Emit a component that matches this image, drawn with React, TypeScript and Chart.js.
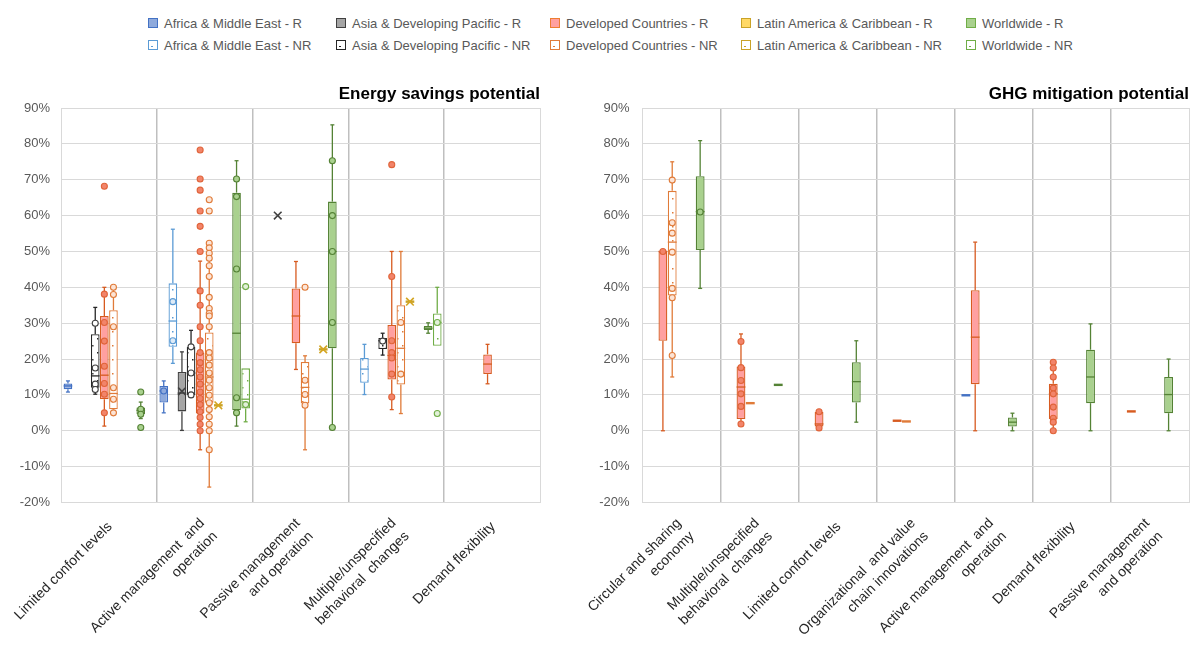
import React, { useEffect, useRef } from "react";
import { Chart, registerables } from "chart.js";

Chart.register(...registerables);

const FONT = '"Liberation Sans", Arial, Helvetica, sans-serif';

// ================= DATA =================
// every box: [min, q1, median, q3, max] in %, null = no data

// ----- Energy savings potential (left panel) -----
const ES_CATEGORIES: string[][] = [
  ["Limited confort levels"],
  ["Active management  and", "operation"],
  ["Passive management", "and operation"],
  ["Multiple/unspecified", "behavioral  changes"],
  ["Demand flexibility"],
];

const ES_AF_R = [[10.8, 11.6, 12.5, 13.2, 13.9], [5, 7.9, 11.1, 12.5, 13.9], null, null, null];
const ES_AF_R_PTS = [[], [11.1], [], [], []];
const ES_AF_NR = [null, [18.8, 23.4, 30.6, 41.1, 56.2], null, [10.1, 13.4, 17.2, 20.3, 24.1], null];
const ES_AF_NR_PTS = [[], [36, 25.1], [], [], []];

const ES_AS_R = [null, [0.1, 5.4, 10.5, 16.4, 22], null, null, null];
const ES_AS_R_MEAN = [null, 11, 60, null, null];
const ES_AS_NR = [[10.2, 12, 15.3, 26.9, 34.4], [9.9, 9.9, 16.1, 23.4, 28], null, [21.1, 22.8, 25.1, 25.9, 27.2], null];
const ES_AS_NR_PTS = [[30, 17.5, 13, 11.5], [23.4, 16.1, 10], [], [25], []];

const ES_DC_R = [
  [1.3, 8.8, 15.5, 32, 40],
  [-5.3, 4.8, 13, 21.8, 47.3],
  [17.1, 24.4, 32, 39.7, 47.2],
  [5.9, 14.3, 21, 29.5, 50],
  [13.1, 15.8, 18.6, 21.3, 24.1],
];
const ES_DC_R_PTS = [
  [68.2, 38.1, 30.2, 25, 18, 13.2, 10.2, 5],
  [78.3, 70.2, 67.1, 61.3, 57, 50, 39, 35, 29, 25.1, 21.8, 19, 17, 15, 13, 10.8, 9, 7.3, 5.3, 3.7, 1.8, 0],
  [],
  [74.2, 43, 25.1, 21.8, 20.3, 15.8, 9.4],
  [],
];
const ES_DC_NR = [
  [5, 6, 10.4, 33.6, 40],
  [-15.7, 7.8, 15, 27.4, 52.3],
  [-5.3, 7.6, 12.1, 19.2, 20.9],
  [4.8, 12.9, 23, 35, 50],
  null,
];
const ES_DC_NR_PTS = [
  [40, 38, 29, 12, 8.8, 5],
  [64.4, 61.3, 52.3, 51, 49.5, 48.1, 46, 43, 37.2, 34.1, 32.7, 32, 29, 21.8, 20.3, 18.3, 16.1, 14.1, 12, 9.9, 7.8, 5.9, 3.9, 1.8, 0, -5.3],
  [40, 14.1, 10.1, 7.1],
  [30.2, 15.8],
  [],
];

const ES_LA_R = [null, [7.1, 7.1, 7.1, 7.1, 7.1], null, [36, 36, 36, 36, 36], null];
const ES_LA_R_MEAN = [null, 7.1, null, 36, null];
const ES_LA_NR = [null, null, [22.7, 22.7, 22.7, 22.7, 22.7], null, null];
const ES_LA_NR_MEAN = [null, null, 22.7, null, null];

const ES_WW_R = [
  [3.4, 4.7, 5.7, 6.5, 8],
  [1.3, 5.7, 27.2, 66.4, 75.3],
  [0.9, 23, 50, 63.9, 85.3],
  [27.2, 28.1, 28.6, 29.2, 30.1],
  null,
];
const ES_WW_R_PTS = [[10.8, 6, 4.6, 0.9], [70.2, 65.3, 45.1, 9.2, 5], [75.3, 60, 50, 30.2, 0.9], [], []];
const ES_WW_NR = [null, [2.5, 6.2, 8.8, 17.4, 17.4], null, [23.7, 23.7, 30.2, 32.7, 40], null];
const ES_WW_NR_PTS = [[], [40.2, 7.3], [], [30.2, 4.8], []];

// ----- GHG mitigation potential (right panel) -----
const GHG_CATEGORIES: string[][] = [
  ["Circular and sharing", "economy"],
  ["Multiple/unspecified", "behavioral  changes"],
  ["Limited confort levels"],
  ["Organizational  and value", "chain innovations"],
  ["Active management  and", "operation"],
  ["Demand flexibility"],
  ["Passive management", "and operation"],
];

const GHG_AF_R = [null, null, null, null, [9.9, 9.9, 9.9, 9.9, 9.9], null, null];
const GHG_DC_R = [
  [0, 25.1, 50, 50, 50],
  [1.9, 3.3, 12.2, 17.9, 27],
  [0.8, 1.2, 1.9, 5.2, 5.5],
  [2.8, 2.8, 2.8, 2.8, 2.8],
  [0, 13, 26.1, 39.2, 52.6],
  [0, 3.3, 10.3, 13.1, 19.1],
  [5.4, 5.4, 5.4, 5.4, 5.4],
];
const GHG_DC_R_PTS = [[50], [24.9, 17.6, 14, 10.3, 6.8, 1.9], [5.3, 0.8], [], [], [19.1, 17.5, 15, 11.9, 10.3, 6.6, 3.5, 2.4, 0], []];
const GHG_DC_NR = [[15, 37.7, 52.6, 66.9, 75], [7.7, 7.7, 7.7, 7.7, 7.7], null, [2.6, 2.6, 2.6, 2.6, 2.6], null, null, null];
const GHG_DC_NR_PTS = [[69.9, 58, 55.1, 49.8, 39.7, 37.1, 21], [], [], [], [], [], []];
const GHG_LA_R = [null, null, null, null, null, null, null];
const GHG_LA_NR = [null, null, null, null, null, null, null];
const GHG_WW_R = [
  [39.7, 50.4, 61.1, 71, 80.9],
  [12.8, 12.8, 12.8, 12.8, 12.8],
  [2.4, 7.9, 13.7, 19.1, 25.1],
  null,
  [0, 1.2, 2.4, 3.7, 4.9],
  [0, 7.7, 15, 22.6, 29.8],
  [0, 4.9, 10.1, 15, 20],
];
const GHG_WW_R_PTS = [[61], [], [], [], [], [], []];
const GHG_WW_NR = [null, null, null, null, null, null, null];

const LEGEND_R = [
  "Africa & Middle East - R",
  "Asia & Developing Pacific - R",
  "Developed Countries - R",
  "Latin America & Caribbean - R",
  "Worldwide - R",
];
const LEGEND_NR = [
  "Africa & Middle East - NR",
  "Asia & Developing Pacific - NR",
  "Developed Countries - NR",
  "Latin America & Caribbean - NR",
  "Worldwide - NR",
];

// ================= STYLES =================
const AF_R = { border: "#4472C4", fill: "#8FAADC", ptFill: "#8FAADC", ptStroke: "#4472C4", mean: "#4472C4", nr: false };
const AF_NR = { border: "#5B9BD5", fill: "#fff", ptFill: "#DEEBF7", ptStroke: "#5B9BD5", mean: "#5B9BD5", nr: true };
const AS_R = { border: "#404040", fill: "#A5A5A5", ptFill: "#D9D9D9", ptStroke: "#404040", mean: "#404040", nr: false };
const AS_NR = { border: "#262626", fill: "#fff", ptFill: "#ffffff", ptStroke: "#404040", mean: "#262626", nr: true };
const DC_R = { border: "#D75B20", fill: "#FFA0A0", ptFill: "#F2846A", ptStroke: "#E0643A", mean: "#D75B20", nr: false };
const DC_NR = { border: "#E07B39", fill: "#fff", ptFill: "#FCE4D6", ptStroke: "#E07B39", mean: "#E07B39", nr: true };
const LA_R = { border: "#C9A227", fill: "#FFD966", ptFill: "#FFD966", ptStroke: "#BF9000", mean: "#D4A521", nr: false };
const LA_NR = { border: "#C9A227", fill: "#fff", ptFill: "#FFF2CC", ptStroke: "#BF9000", mean: "#D4A521", nr: true };
const WW_R = { border: "#548235", fill: "#A9D18E", ptFill: "#A9D18E", ptStroke: "#548235", mean: "#548235", nr: false };
const WW_NR = { border: "#70AD47", fill: "#fff", ptFill: "#E2F0D9", ptStroke: "#70AD47", mean: "#70AD47", nr: true };

const LEGEND_STYLES = [
  [AF_R, AF_NR],
  [AS_R, AS_NR],
  [{ ...DC_R, border: "#ED7D31" }, DC_NR],
  [LA_R, LA_NR],
  [{ ...WW_R, border: "#70AD47" }, WW_NR],
];

const ES_SERIES = [
  { box: ES_AF_R, pts: ES_AF_R_PTS, st: AF_R },
  { box: ES_AF_NR, pts: ES_AF_NR_PTS, st: AF_NR },
  { box: ES_AS_R, mean: ES_AS_R_MEAN, st: AS_R },
  { box: ES_AS_NR, pts: ES_AS_NR_PTS, st: AS_NR },
  { box: ES_DC_R, pts: ES_DC_R_PTS, st: DC_R },
  { box: ES_DC_NR, pts: ES_DC_NR_PTS, st: DC_NR },
  { box: ES_LA_R, mean: ES_LA_R_MEAN, st: LA_R },
  { box: ES_LA_NR, mean: ES_LA_NR_MEAN, st: LA_NR },
  { box: ES_WW_R, pts: ES_WW_R_PTS, st: WW_R },
  { box: ES_WW_NR, pts: ES_WW_NR_PTS, st: WW_NR },
];

const GHG_SERIES = [
  { box: GHG_AF_R, st: AF_R },
  { box: GHG_DC_R, pts: GHG_DC_R_PTS, st: DC_R },
  { box: GHG_DC_NR, pts: GHG_DC_NR_PTS, st: DC_NR },
  { box: GHG_LA_R, st: LA_R },
  { box: GHG_LA_NR, st: LA_NR },
  { box: GHG_WW_R, pts: GHG_WW_R_PTS, st: WW_R },
  { box: GHG_WW_NR, st: WW_NR },
];

// ================= PLUGINS =================
const boxPlugin = {
  id: "boxExtras",
  afterDatasetsDraw(chart: any) {
    const { ctx } = chart;
    const ys = chart.scales.y;
    const py = (v: number) => ys.getPixelForValue(v);
    const seg = (x1: number, y1: number, x2: number, y2: number) => {
      ctx.beginPath();
      ctx.moveTo(x1, y1);
      ctx.lineTo(x2, y2);
      ctx.stroke();
    };
    chart.data.datasets.forEach((ds: any, di: number) => {
      const meta = chart.getDatasetMeta(di);
      const st = ds.boxStyle;
      ds.boxStats.forEach((b: number[] | null, i: number) => {
        const el = meta.data[i];
        if (!el) return;
        const x = el.x;
        const hw = el.width / 2;
        ctx.save();
        ctx.strokeStyle = st.border;
        if (b) {
          const [mn, q1, md, q3, mx] = b;
          ctx.lineWidth = 1.3;
          if (mx > q3) {
            seg(x, py(q3), x, py(mx));
            seg(x - 2, py(mx), x + 2, py(mx));
          }
          if (mn < q1) {
            seg(x, py(q1), x, py(mn));
            seg(x - 2, py(mn), x + 2, py(mn));
          }
          const flat = q3 - q1 < 0.05;
          ctx.lineWidth = flat ? 2.4 : 1.3;
          seg(x - hw, py(md), x + hw, py(md));
        }
        const m = ds.boxMean ? ds.boxMean[i] : null;
        if (m !== null && m !== undefined) {
          ctx.strokeStyle = st.mean;
          ctx.lineWidth = 1.6;
          const s = 3.8;
          const yy = py(m);
          seg(x - s, yy - s, x + s, yy + s);
          seg(x - s, yy + s, x + s, yy - s);
        }
        ctx.restore();
      });
    });
    chart.data.datasets.forEach((ds: any, di: number) => {
      if (!ds.boxPts) return;
      const meta = chart.getDatasetMeta(di);
      const st = ds.boxStyle;
      ds.boxPts.forEach((list: number[], i: number) => {
        const el = meta.data[i];
        if (!el) return;
        list.forEach((v) => {
          ctx.beginPath();
          ctx.arc(el.x, py(v), 3, 0, Math.PI * 2);
          ctx.fillStyle = st.ptFill;
          ctx.fill();
          ctx.lineWidth = 1.1;
          ctx.strokeStyle = st.ptStroke;
          ctx.stroke();
        });
      });
    });
  },
};

function makeLabelPlugin(labels: string[][]) {
  return {
    id: "rotLabels",
    afterDraw(chart: any) {
      const { ctx, chartArea } = chart;
      const xs = chart.scales.x;
      ctx.save();
      ctx.font = `14px ${FONT}`;
      ctx.fillStyle = "#262626";
      ctx.textAlign = "right";
      ctx.textBaseline = "middle";
      const lh = 18.5;
      labels.forEach((lines, i) => {
        const px = xs.getPixelForValue(i) + 1;
        const pyy = chartArea.bottom + 22;
        ctx.save();
        ctx.translate(px, pyy);
        ctx.rotate(-Math.PI / 4);
        lines.forEach((ln, j) => ctx.fillText(ln, 0, j * lh - (lines.length - 1) * 5));
        ctx.restore();
      });
      ctx.restore();
    },
  };
}

function dotPattern(color: string) {
  const c = document.createElement("canvas");
  c.width = 10;
  c.height = 14;
  const g = c.getContext("2d")!;
  g.fillStyle = "#ffffff";
  g.fillRect(0, 0, 10, 14);
  g.fillStyle = color;
  g.fillRect(2, 3, 1.5, 1.5);
  g.fillRect(7, 10, 1.5, 1.5);
  return g.createPattern(c, "repeat");
}

function makeChart(
  canvas: HTMLCanvasElement,
  categories: string[][],
  series: any[],
  title: string,
  catPct: number,
  yWidth: number,
  tickPad: number,
  padRight: number
) {
  const n = categories.length;
  const datasets = series.map((s) => ({
    data: s.box.map((b: number[] | null) => (b ? [b[1], b[3]] : null)),
    backgroundColor: s.st.nr ? dotPattern(s.st.border) : s.st.fill,
    borderColor: s.st.border,
    borderWidth: 1.3,
    borderSkipped: false,
    barPercentage: 0.95,
    categoryPercentage: catPct,
    boxStats: s.box,
    boxPts: s.pts,
    boxMean: s.mean,
    boxStyle: s.st,
  }));
  return new Chart(canvas, {
    type: "bar",
    data: { labels: categories.map((c) => c.join(" ")), datasets },
    options: {
      responsive: true,
      maintainAspectRatio: false,
      animation: false,
      layout: { padding: { left: 0, right: padRight, top: 0, bottom: 143.5 } },
      plugins: {
        legend: { display: false },
        tooltip: { enabled: false },
        title: {
          display: true,
          text: title,
          align: "end",
          color: "#000000",
          font: { size: 17, weight: "bold", family: FONT, lineHeight: 1.2 },
          padding: { top: 8, bottom: 3.6 },
        },
      },
      scales: {
        x: {
          offset: true,
          grid: {
            offset: true,
            drawTicks: false,
            color: (c: any) => (c.index > 0 && c.index < n ? "#BFBFBF" : "#D9D9D9"),
            lineWidth: (c: any) => (c.index > 0 && c.index < n ? 1.5 : 1),
          },
          border: { display: false },
          ticks: { display: false },
          afterFit: (s: any) => {
            s.height = 0;
          },
        },
        y: {
          min: -20,
          max: 90,
          ticks: {
            stepSize: 10,
            callback: (v: any) => `${v}%`,
            font: { size: 13, family: FONT },
            color: "#595959",
            padding: tickPad,
          },
          grid: { color: "#D9D9D9", drawTicks: false, lineWidth: 1 },
          border: { display: false },
          afterFit: (s: any) => {
            s.width = yWidth;
          },
        },
      },
    } as any,
    plugins: [boxPlugin, makeLabelPlugin(categories)] as any,
  });
}

const LEGEND_COL_X = [164, 352, 566, 757, 982];
const LEGEND_ROW_Y = [23, 45];

function LegendIcon({ st, nr }: { st: any; nr: boolean }) {
  return (
    <span
      style={{
        position: "relative",
        display: "inline-block",
        width: 10,
        height: 10,
        boxSizing: "border-box",
        border: `1px solid ${st.border}`,
        background: nr ? "#ffffff" : st.fill,
      }}
    >
      {nr ? (
        <span
          style={{ position: "absolute", left: 2, bottom: 2, width: 1.5, height: 1.5, background: st.border }}
        />
      ) : null}
    </span>
  );
}

function Legend() {
  const items: any[] = [];
  LEGEND_STYLES.forEach((pair, ci) => {
    [LEGEND_R[ci], LEGEND_NR[ci]].forEach((label, ri) => {
      items.push(
        <div
          key={`${ci}-${ri}`}
          style={{
            position: "absolute",
            left: LEGEND_COL_X[ci] - 16,
            top: LEGEND_ROW_Y[ri] - 8,
            height: 16,
            display: "flex",
            alignItems: "center",
            whiteSpace: "nowrap",
            font: `13px ${FONT}`,
            color: "#595959",
          }}
        >
          <LegendIcon st={pair[ri]} nr={ri === 1} />
          <span style={{ marginLeft: 6 }}>{label}</span>
        </div>
      );
    });
  });
  return <>{items}</>;
}

export default function App() {
  const leftRef = useRef<HTMLCanvasElement>(null);
  const rightRef = useRef<HTMLCanvasElement>(null);
  useEffect(() => {
    const c1 = makeChart(leftRef.current!, ES_CATEGORIES, ES_SERIES, "Energy savings potential", 0.95, 61, 11, 5);
    const c2 = makeChart(rightRef.current!, GHG_CATEGORIES, GHG_SERIES, "GHG mitigation potential", 0.835, 67.5, 13, 3);
    return () => {
      c1.destroy();
      c2.destroy();
    };
  }, []);
  return (
    <div style={{ position: "absolute", left: 0, top: 0, width: 1192, height: 646, background: "#ffffff", overflow: "hidden" }}>
      <Legend />
      <div style={{ position: "absolute", left: 0, top: 76, width: 545, height: 570 }}>
        <canvas ref={leftRef} />
      </div>
      <div style={{ position: "absolute", left: 575, top: 76, width: 617, height: 570 }}>
        <canvas ref={rightRef} />
      </div>
    </div>
  );
}
